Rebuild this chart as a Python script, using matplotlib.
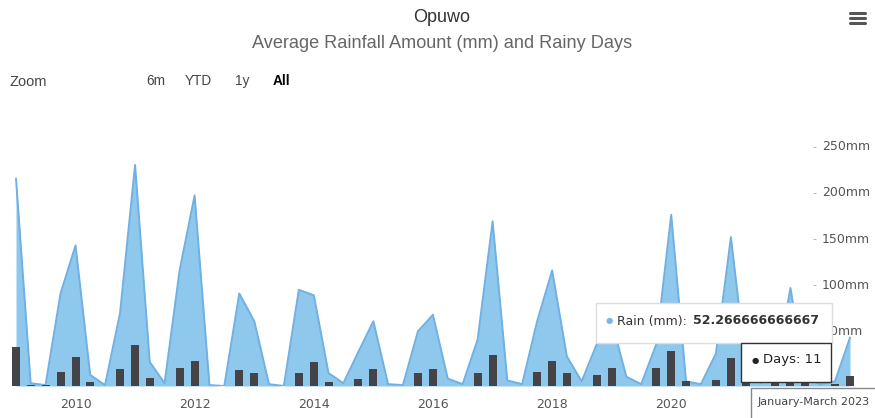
import matplotlib
matplotlib.use("Agg")
import matplotlib.pyplot as plt
import matplotlib.dates as mdates
import numpy as np
import datetime as dt

# ---------------- data ----------------
start_year = 2009
n_quarters = 57  # Q1 2009 .. Q1 2023
quarter_dates = [dt.date(start_year + q // 4, 1 + 3 * (q % 4), 1) for q in range(n_quarters)]

rain_mm = [224, 3, 1, 100, 152, 12, 1, 79, 239, 26, 3, 125, 206, 1, 0, 100,
           70, 2, 0, 104, 98, 14, 3, 37, 70, 2, 1, 59, 77, 8, 2, 50,
           178, 6, 2, 70, 125, 32, 5, 45, 70, 10, 2, 45, 185, 5, 2, 35,
           161, 25, 3, 15, 106, 10, 2, 5, 52.266666666667]

rainy_days = [42, 1, 1, 15, 31, 4, 0, 18, 44, 9, 0, 20, 27, 0, 0, 17,
              14, 0, 0, 14, 26, 4, 0, 8, 18, 0, 0, 14, 18, 0, 0, 14,
              34, 0, 0, 15, 27, 14, 0, 12, 20, 0, 0, 19, 38, 5, 0, 6,
              30, 8, 0, 6, 22, 5, 0, 2, 11]

y_ticks = [50, 100, 150, 200, 250]
y_tick_labels = ["50mm", "100mm", "150mm", "200mm", "250mm"]
x_tick_years = [2010, 2012, 2014, 2016, 2018, 2020]

title = "Opuwo"
subtitle = "Average Rainfall Amount (mm) and Rainy Days"
range_buttons = ["6m", "YTD", "1y", "All"]
tooltip_rain_label = "Rain (mm): "
tooltip_rain_value = "52.266666666667"
tooltip_days = "Days: 11"
tooltip_period = "January-March 2023"

# ---------------- figure ----------------
W, H = 875, 418
fig = plt.figure(figsize=(W / 100, H / 100), dpi=100)

def fx(px):
    return px / W

def fy(py):
    return 1 - py / H

# plot area in pixels
L, R = 10, 862
y0_px, y250_px = 386, 154.75
ax = fig.add_axes([fx(L), fy(y0_px), (R - L) / W, (y0_px - y250_px) / H])

d0 = mdates.date2num(dt.date(2009, 1, 1))
d1 = mdates.date2num(dt.date(2023, 1, 1))
ppd = (850 - 16) / (d1 - d0)
ax.set_xlim(d0 - (16 - L) / ppd, d0 + (R - 16) / ppd)
ax.set_ylim(0, 250)

xd = mdates.date2num(quarter_dates)
ax.fill_between(xd, rain_mm, 0, color="#8fc8ed", lw=0, zorder=1)
ax.plot(xd, rain_mm, color="#70b0e2", lw=1.4, zorder=2)
ax.bar(xd, rainy_days, width=8 / ppd, color="#434348", zorder=3)

for s in ax.spines.values():
    s.set_visible(False)
ax.set_yticks([])
ax.set_xticks([mdates.date2num(dt.date(y, 1, 1)) for y in x_tick_years])
ax.set_xticklabels([str(y) for y in x_tick_years], fontsize=9,
                   color="#555555", family="DejaVu Sans")
ax.tick_params(axis="x", length=0, pad=9)
ax.patch.set_alpha(0)

# right axis labels (inside plot, above grid lines)
for v, lab in zip(y_ticks, y_tick_labels):
    ypx = y0_px - v * 0.925 - 8
    fig.text(fx(812), fy(ypx), "-", fontsize=8, color="#aaaaaa",
             va="center", ha="left", family="DejaVu Sans")
    fig.text(fx(822), fy(ypx), lab, fontsize=9, color="#555555",
             va="center", ha="left", family="DejaVu Sans")

# titles
cx = fx(442)
fig.text(cx, fy(18), title, fontsize=13, color="#333333",
         ha="center", va="center", family="Liberation Sans")
fig.text(cx, fy(44), subtitle, fontsize=13.1, color="#666666",
         ha="center", va="center", family="Liberation Sans")

# range selector
fig.text(fx(10), fy(82), "Zoom", fontsize=10.5, color="#444444", ha="left",
         va="center", family="Liberation Sans")
for lab, px in zip(range_buttons, [146, 185, 235, 273]):
    fig.text(fx(px), fy(81), lab, fontsize=9.8,
             color="#000000" if lab == "All" else "#444444",
             weight="bold" if lab == "All" else "normal",
             ha="left", va="center", family="Liberation Sans")

# hamburger menu icon
for yy in (13, 18, 23):
    fig.add_artist(plt.Line2D([fx(850), fx(865)], [fy(yy), fy(yy)],
                              color="#555555", lw=2.2, solid_capstyle="round"))

# tooltips
def box(x0, y0, x1, y1, ec, lw=1.0, ls="-"):
    fig.add_artist(plt.Rectangle((fx(x0), fy(y1)), (x1 - x0) / W, (y1 - y0) / H,
                                 facecolor="white", edgecolor=ec, lw=lw, ls=ls,
                                 zorder=10))

box(596, 303, 832, 343, "#dddddd")
fig.text(fx(606), fy(321), "\u25cf", fontsize=6, color="#7cb5ec", ha="left",
         va="center", zorder=11)
t1 = fig.text(fx(617), fy(321), tooltip_rain_label, fontsize=9.0, color="#333333",
              ha="left", va="center", family="DejaVu Sans", zorder=11)
fig.canvas.draw()
bb = t1.get_window_extent(renderer=fig.canvas.get_renderer())
fig.text(bb.x1 / W + fx(2), fy(321), tooltip_rain_value, fontsize=9.0,
         color="#333333", ha="left", va="center", family="DejaVu Sans",
         weight="bold", zorder=11)

box(741, 343, 831, 382, "#333333", lw=1.0)
fig.text(fx(752), fy(360), "\u25cf", fontsize=6, color="#222222", ha="left",
         va="center", zorder=11)
fig.text(fx(763), fy(360), tooltip_days, fontsize=9.5, color="#222222",
         ha="left", va="center", family="DejaVu Sans", zorder=11)

box(751, 388, 880, 420, "#888888")
fig.text(fx(758), fy(402), tooltip_period, fontsize=8.0, color="#444444",
         ha="left", va="center", family="DejaVu Sans", zorder=11)

fig.savefig("out.png", dpi=100, facecolor="white")
